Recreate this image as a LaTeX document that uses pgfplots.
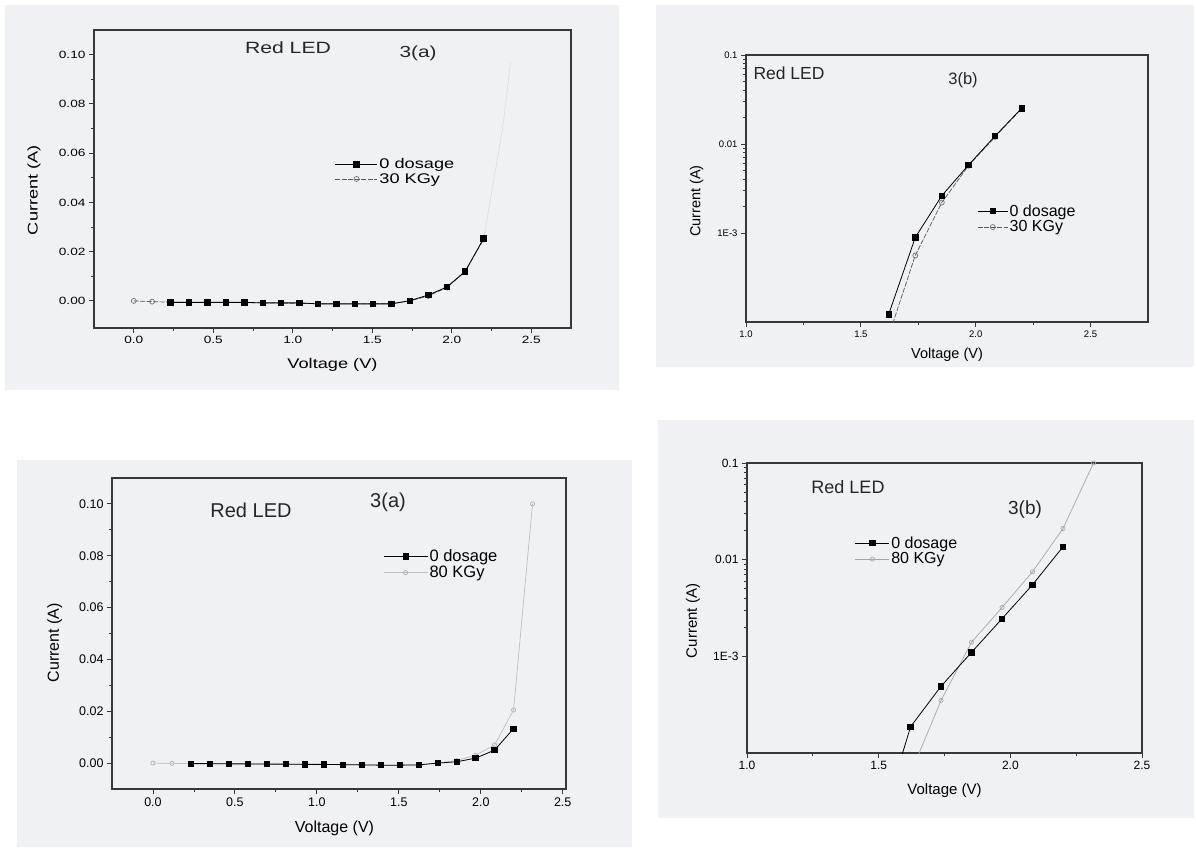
\documentclass[border=0pt]{standalone}
\usepackage{pgfplots}
\pgfplotsset{compat=1.18}
\usepackage{fontspec}
\setmainfont{Liberation Sans}
\newfontfamily\wide{Liberation Sans}[FakeStretch=1.3]
\definecolor{bg}{RGB}{240,241,245}
\definecolor{ax}{RGB}{55,55,60}
\pgfplotsset{
  scanaxis/.style={
    scale only axis, anchor=south west,
    axis line style={ax, line width=1.3pt},
    tick style={ax, line width=0.9pt},
    tick align=outside, xtick pos=left, ytick pos=left,
    major tick length=5pt, minor tick length=3pt,
    /pgf/number format/assume math mode=true,
    legend cell align=left, reverse legend,
    legend style={draw=none, fill=none, inner sep=0pt, anchor=north west,
      nodes={inner sep=1.5pt}},
    xlabel={Voltage (V)}, ylabel={Current (A)},
    xlabel style={anchor=center}, ylabel style={anchor=center},
  },
  zero/.style={black, line width=0.8pt, mark=square*, mark size=2.7pt, mark options={solid, fill=black}},
  kgy/.style={black!65, line width=0.7pt, dash pattern=on 5pt off 1.5pt, mark=o, mark size=2.5pt, mark options={solid, fill=white, black!55}},
  kgyb/.style={black!35, line width=0.7pt, mark=o, mark size=2.1pt, mark options={solid, fill=white, black!35}},
}
\begin{document}
\begin{tikzpicture}
\path[use as bounding box] (0pt,0pt) rectangle (1196pt,847pt);
\fill[bg] (5pt,457pt) rectangle (619pt,842pt);
\fill[bg] (656pt,480pt) rectangle (1194pt,842pt);
\fill[bg] (17pt,0pt) rectangle (632pt,387pt);
\fill[bg] (658pt,29pt) rectangle (1194pt,427pt);

% ---------- Panel 1: linear, 30 KGy ----------
\begin{axis}[scanaxis, at={(94pt,519pt)}, width=477pt, height=298pt,
  xmin=-0.25, xmax=2.75, ymin=-0.011, ymax=0.11,
  xtick={0,0.5,1,1.5,2,2.5}, minor x tick num=1,
  ytick={0,0.02,0.04,0.06,0.08,0.1}, minor y tick num=1,
  xticklabel style={/pgf/number format/.cd,fixed,fixed zerofill,precision=1},
  yticklabel style={/pgf/number format/.cd,fixed,fixed zerofill,precision=2},
  tick label style={font=\wide\fontsize{10.5}{12}\selectfont},
  label style={font=\wide\fontsize{14}{16}\selectfont},
  xlabel style={at={(axis description cs:0.5,-0.124)}},
  ylabel style={at={(axis description cs:-0.126,0.463)}},
  legend style={at={(axis description cs:0.505,0.574)}, font=\wide\fontsize{14}{17}\selectfont},
  legend image code/.code={\draw[mark repeat=2,mark phase=2,#1] plot coordinates {(0pt,0pt) (21pt,0pt) (42pt,0pt)};},
]
\addplot[kgy] coordinates {
(0.0000,0.0000) (0.1158,-0.0003) (0.2316,-0.0005) (0.3474,-0.0006) (0.4632,-0.0006)
(0.5789,-0.0007) (0.6947,-0.0007) (0.8105,-0.0008) (0.9263,-0.0009) (1.0421,-0.0010)
(1.1579,-0.0011) (1.2737,-0.0012) (1.3895,-0.0012) (1.5053,-0.0012) (1.6211,-0.0011)
(1.7368,0.0000) (1.8526,0.0020) (1.9684,0.0054) (2.0842,0.0118) (2.2000,0.0250)};
\addlegendentry{30 KGy}
\addplot[black!15, line width=0.5pt, forget plot] coordinates {(2.2000,0.0250) (2.3200,0.0700) (2.3700,0.0970)};
\addplot[zero] coordinates {
(0.2316,-0.0006) (0.3474,-0.0006) (0.4632,-0.0006) (0.5789,-0.0006) (0.6947,-0.0006)
(0.8105,-0.0008) (0.9263,-0.0008) (1.0421,-0.0008) (1.1579,-0.0012) (1.2737,-0.0012)
(1.3895,-0.0012) (1.5053,-0.0012) (1.6211,-0.0012) (1.7368,0.0001) (1.8526,0.0024)
(1.9684,0.0056) (2.0842,0.0120) (2.2000,0.0253)};
\addlegendentry{0 dosage}
\end{axis}

% ---------- Panel 2: log, 30 KGy ----------
\begin{axis}[scanaxis, at={(746pt,525pt)}, width=402pt, height=267pt,
  xmin=1.0, xmax=2.75, ymode=log, ymin=1e-4, ymax=0.1,
  xtick={1,1.5,2,2.5}, minor x tick num=1,
  ytick={0.001,0.01,0.1}, yticklabels={1E-3,0.01,0.1},
  xticklabel style={/pgf/number format/.cd,fixed,fixed zerofill,precision=1},
  tick label style={font=\fontsize{9.5}{11}\selectfont},
  label style={font=\fontsize{14.5}{16}\selectfont},
  xlabel style={at={(axis description cs:0.5,-0.124)}},
  ylabel style={at={(axis description cs:-0.123,0.453)}},
  legend style={at={(axis description cs:0.575,0.446)}, font=\fontsize{16}{18}\selectfont},
  legend image code/.code={\draw[mark repeat=2,mark phase=2,#1] plot coordinates {(0pt,0pt) (15pt,0pt) (30pt,0pt)};},
]
\addplot[kgy] coordinates {
(1.6211,7.0e-5) (1.7368,5.6e-4) (1.8526,2.2e-3) (1.9684,5.7e-3) (2.0842,1.20e-2) (2.2000,2.50e-2)};
\addlegendentry{30 KGy}
\addplot[zero] coordinates {
(1.6211,1.22e-4) (1.7368,8.9e-4) (1.8526,2.63e-3) (1.9684,5.8e-3) (2.0842,1.23e-2) (2.2000,2.52e-2)};
\addlegendentry{0 dosage}
\end{axis}

% ---------- Panel 3: linear, 80 KGy ----------
\begin{axis}[scanaxis, at={(112pt,58pt)}, width=454pt, height=311pt,
  xmin=-0.25, xmax=2.52, ymin=-0.010, ymax=0.11,
  xtick={0,0.5,1,1.5,2,2.5}, minor x tick num=1,
  ytick={0,0.02,0.04,0.06,0.08,0.1}, minor y tick num=1,
  xticklabel style={/pgf/number format/.cd,fixed,fixed zerofill,precision=1},
  yticklabel style={/pgf/number format/.cd,fixed,fixed zerofill,precision=2},
  tick label style={font=\fontsize{12.5}{14}\selectfont},
  label style={font=\fontsize{16}{18}\selectfont},
  xlabel style={at={(axis description cs:0.49,-0.125)}},
  ylabel style={at={(axis description cs:-0.126,0.47)}},
  legend style={at={(axis description cs:0.597,0.775)}, font=\fontsize{16.5}{18.5}\selectfont},
  legend image code/.code={\draw[mark repeat=2,mark phase=2,#1] plot coordinates {(0pt,0pt) (22pt,0pt) (44pt,0pt)};},
]
\addplot[kgyb, black!25, mark options={solid, fill=white, black!30}] coordinates {
(0.0000,0.0000) (0.1158,-0.0001) (0.2316,-0.0002) (0.3474,-0.0002) (0.4632,-0.0003)
(0.5789,-0.0003) (0.6947,-0.0004) (0.8105,-0.0004) (0.9263,-0.0005) (1.0421,-0.0005)
(1.1579,-0.0006) (1.2737,-0.0007) (1.3895,-0.0008) (1.5053,-0.0008) (1.6211,-0.0007)
(1.7368,0.0000) (1.8526,0.0010) (1.9684,0.0030) (2.0842,0.0070) (2.2000,0.0205) (2.3158,0.1000)};
\addlegendentry{80 KGy}
\addplot[zero] coordinates {
(0.2316,-0.0002) (0.3474,-0.0002) (0.4632,-0.0003) (0.5789,-0.0003) (0.6947,-0.0004)
(0.8105,-0.0004) (0.9263,-0.0005) (1.0421,-0.0005) (1.1579,-0.0006) (1.2737,-0.0007)
(1.3895,-0.0008) (1.5053,-0.0008) (1.6211,-0.0007) (1.7368,0.0000) (1.8526,0.0005)
(1.9684,0.0019) (2.0842,0.0050) (2.2000,0.0133)};
\addlegendentry{0 dosage}
\end{axis}

% ---------- Panel 4: log, 80 KGy ----------
\begin{axis}[scanaxis, at={(747pt,94pt)}, width=395pt, height=290pt,
  xmin=1.0, xmax=2.5, ymode=log, ymin=1e-4, ymax=0.1,
  xtick={1,1.5,2,2.5}, minor x tick num=1,
  ytick={0.001,0.01,0.1}, yticklabels={1E-3,0.01,0.1},
  xticklabel style={/pgf/number format/.cd,fixed,fixed zerofill,precision=1},
  tick label style={font=\fontsize{12}{14}\selectfont},
  label style={font=\fontsize{15}{17}\selectfont},
  xlabel style={at={(axis description cs:0.5,-0.128)}},
  ylabel style={at={(axis description cs:-0.137,0.455)}},
  legend style={at={(axis description cs:0.273,0.752)}, font=\fontsize{16}{18.5}\selectfont},
  legend image code/.code={\draw[mark repeat=2,mark phase=2,#1] plot coordinates {(0pt,0pt) (17pt,0pt) (34pt,0pt)};},
]
\addplot[kgyb] coordinates {
(1.5053,1.0e-5) (1.6211,6.1e-5) (1.7368,3.5e-4) (1.8526,1.4e-3) (1.9684,3.2e-3)
(2.0842,7.5e-3) (2.2000,2.1e-2) (2.3158,1.0e-1)};
\addlegendentry{80 KGy}
\addplot[zero] coordinates {
(1.5053,1.7e-5) (1.6211,1.87e-4) (1.7368,4.9e-4) (1.8526,1.10e-3) (1.9684,2.45e-3)
(2.0842,5.5e-3) (2.2000,1.36e-2)};
\addlegendentry{0 dosage}
\end{axis}

% ---------- annotations ----------
\node[font=\wide\fontsize{16.3}{18}\selectfont, text=black!85] at (288pt,799pt) {Red LED};
\node[font=\wide\fontsize{16}{18}\selectfont, text=black!85] at (418pt,794pt) {3(a)};
\node[font=\fontsize{17.5}{20}\selectfont, text=black!85] at (789pt,774pt) {Red LED};
\node[font=\fontsize{16.5}{19}\selectfont, text=black!85] at (963pt,767pt) {3(b)};
\node[font=\fontsize{20}{22}\selectfont, text=black!85] at (251pt,337pt) {Red LED};
\node[font=\fontsize{20}{22}\selectfont, text=black!85] at (388pt,345pt) {3(a)};
\node[font=\fontsize{18}{20}\selectfont, text=black!85] at (848pt,360pt) {Red LED};
\node[font=\fontsize{19}{21}\selectfont, text=black!85] at (1025pt,337pt) {3(b)};
\end{tikzpicture}
\end{document}
